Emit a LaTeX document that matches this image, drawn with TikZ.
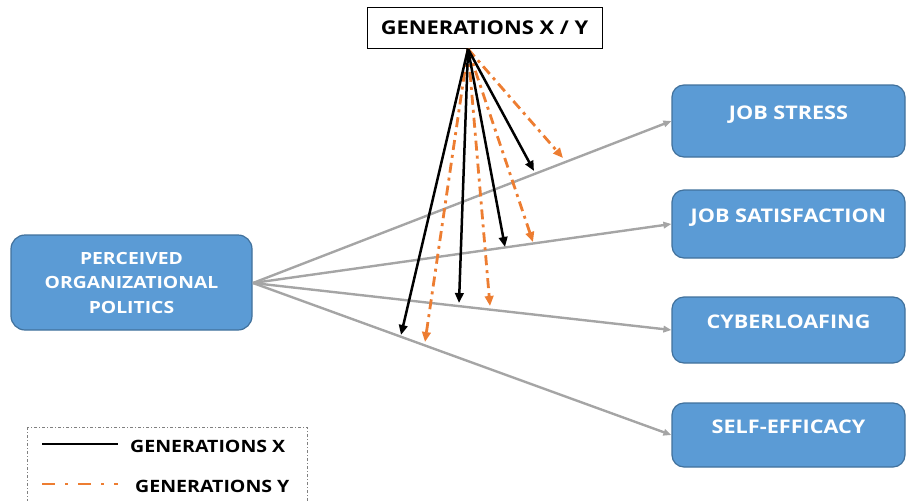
\documentclass[tikz,border=0pt]{standalone}
\usepackage{fontspec}
\setmainfont[FakeStretch=1.15]{Open Sans}
\usepackage{xcolor}
\usepackage{tikz}
\usetikzlibrary{arrows.meta, positioning, calc}
\definecolor{boxblue}{HTML}{5B9BD5}
\definecolor{boxedge}{HTML}{41719C}
\definecolor{genyorange}{HTML}{ED7D31}
\definecolor{linkgray}{HTML}{A5A5A5}
\tikzstyle{outcome} = [
  rectangle, rounded corners=12pt, draw=boxedge, line width=1.2pt, fill=boxblue,
  text=white, text centered, minimum width=233pt, inner sep=0pt,
  text height=13pt, text depth=16pt,
  font=\fontsize{18.8}{22}\selectfont\bfseries
]
\tikzstyle{predictor} = [
  rectangle, rounded corners=14pt, draw=boxedge, line width=1.2pt, fill=boxblue,
  text=white, align=center, minimum width=241pt, minimum height=95pt, inner sep=0pt,
  font=\fontsize{16.8}{24.5}\selectfont\bfseries
]
\tikzstyle{moderator} = [
  rectangle, draw=black, line width=1pt, fill=white,
  minimum width=235pt, minimum height=41pt, inner sep=0pt,
  font=\fontsize{19}{22}\selectfont\bfseries
]
\tikzstyle{legendtext} = [anchor=west, inner sep=0pt, font=\fontsize{17}{20}\selectfont\bfseries]
\tikzstyle{link} = [-{Triangle[length=8pt,width=6.5pt]}, linkgray, line width=2.4pt]
\tikzstyle{genx} = [-{Triangle[length=10pt,width=8.5pt]}, black, line width=2.5pt]
\tikzstyle{geny} = [-{Triangle[length=10pt,width=8.5pt]}, genyorange, line width=2.8pt,
  dash pattern=on 10pt off 5pt on 3pt off 5pt]

\begin{document}
\begin{tikzpicture}[x=1pt, y=-1pt]

  \useasboundingbox (0, 0) rectangle (906, 501);

  \node[moderator] (gxy) at (484.5, 27.5) {GENERATIONS X / Y};
  \node[predictor] (pop) at (131.5, 282.5) {PERCEIVED\\ORGANIZATIONAL\\POLITICS};

  \node[outcome, minimum height=72pt] (js) at (788.5, 121) {JOB STRESS};
  \node[outcome, minimum height=68pt] (jsat) at (788.5, 224) {JOB SATISFACTION};
  \node[outcome, minimum height=66pt] (cyb) at (788.5, 330) {CYBERLOAFING};
  \node[outcome, minimum height=64pt] (se) at (788.5, 435) {SELF-EFFICACY};

  \coordinate (hub) at (253, 283);
  \foreach \target in {js, jsat, cyb, se}
    \draw[link] (hub) -- (\target.west);

  % moderation arrows out of the top box
  \coordinate (fan) at (468, 49);
  \foreach \name/\x/\y in {xa/401/335, xb/459/303, xc/505/247, xd/534/171,
                            ya/425/342, yb/490/306, yc/533/242, yd/563/158}
    \coordinate (\name) at (\x, \y);

  \foreach \tip in {ya, yb, yc, yd}
    \draw[geny] (fan) -- (\tip);
  \foreach \tip in {xa, xb, xc, xd}
    \draw[genx] (fan) -- (\tip);

  % legend
  \draw[gray, line width=1pt, dash pattern=on 3pt off 2pt on 1pt off 2pt] (27, 427) rectangle (307, 520);
  \node[legendtext] (lgx) at (130, 446) {GENERATIONS X};
  \node[legendtext] (lgy) at (135, 486) {GENERATIONS Y};
  \coordinate (lxa) at (42, 444);
  \coordinate (lxb) at (118, 444);
  \coordinate (lya) at (42, 484);
  \coordinate (lyb) at (118, 484);
  \draw[black, line width=2.5pt] (lxa) -- (lxb);
  \draw[genyorange, line width=2.8pt, dash pattern=on 13pt off 10pt on 3pt off 10pt] (lya) -- (lyb);

\end{tikzpicture}
\end{document}
